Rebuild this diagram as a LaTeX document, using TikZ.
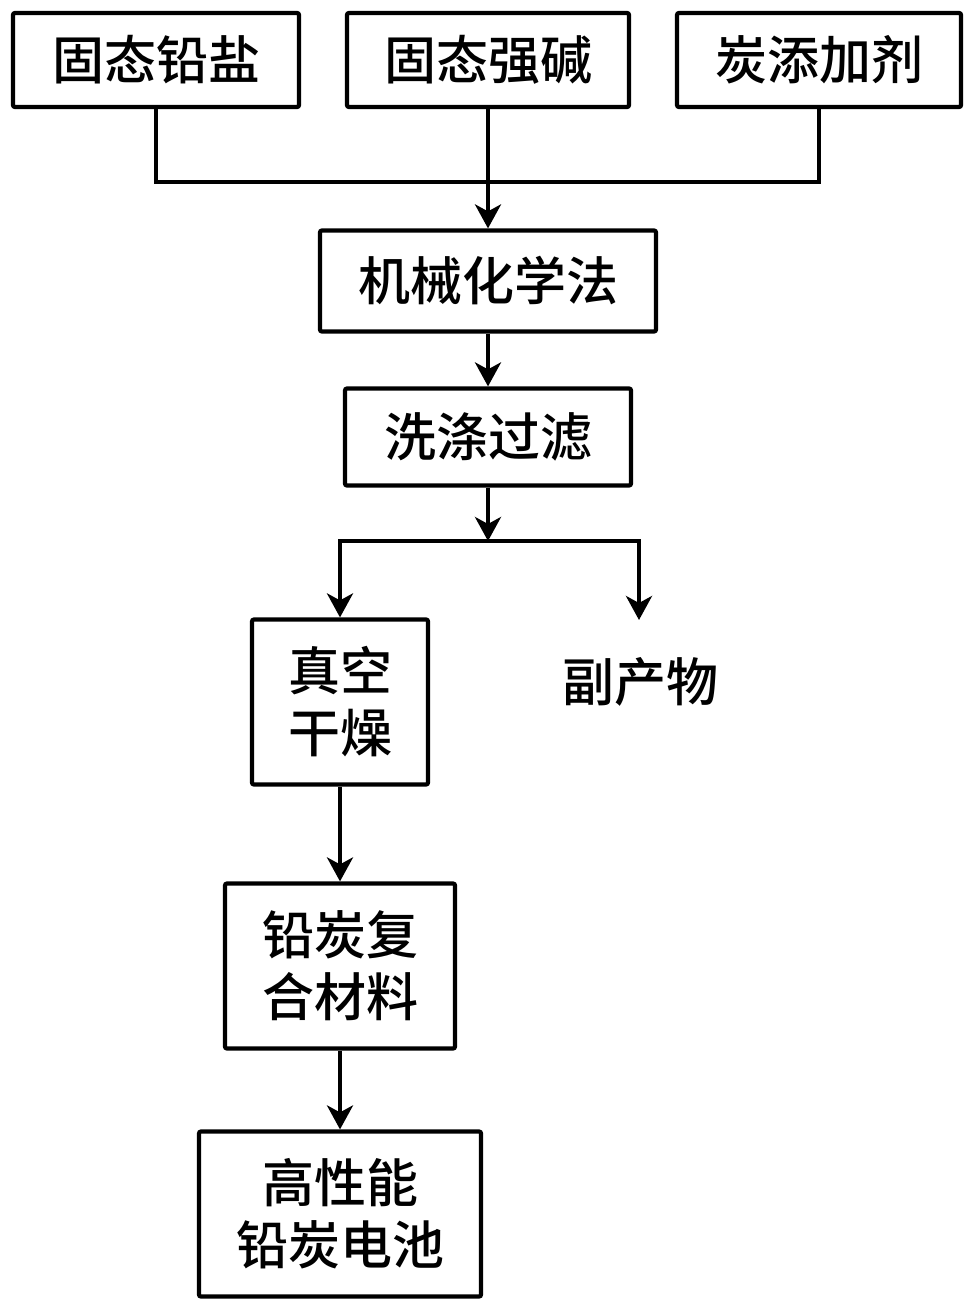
\documentclass[tikz,border=0pt]{standalone}
\usepackage{fontspec}
\newfontfamily\cjk{Noto Sans CJK SC Medium}
\usetikzlibrary{arrows.meta}
\tikzset{
  box/.style={draw=black, line width=4.2pt, rounded corners=2pt, inner sep=0pt, align=center,
    font=\cjk\fontsize{52}{62}\selectfont},
  label/.style={inner sep=0pt, font=\cjk\fontsize{52}{62}\selectfont},
  conn/.style={line width=4pt, draw=black},
  arr/.style={conn, -{Stealth[length=24pt, width=26pt, inset=7pt]}}
}
\begin{document}
\begin{tikzpicture}[x=1pt, y=-1pt]
\useasboundingbox (0,0) rectangle (972,1314);
\node[box, minimum width=286pt, minimum height=94pt] (b1) at (156,60) {固态铅盐};
\node[box, minimum width=282pt, minimum height=94pt] (b2) at (488,60) {固态强碱};
\node[box, minimum width=284pt, minimum height=94pt] (b3) at (819,60) {炭添加剂};
\node[box, minimum width=336pt, minimum height=101pt] (mech) at (488,281) {机械化学法};
\node[box, minimum width=286pt, minimum height=97pt] (wash) at (488,437) {洗涤过滤};
\node[box, minimum width=176pt, minimum height=165pt] (vac) at (340,702) {真空\\干燥};
\node[label] (byp) at (640,682) {副产物};
\node[box, minimum width=230pt, minimum height=165pt] (comp) at (340,966) {铅炭复\\合材料};
\node[box, minimum width=282pt, minimum height=165pt] (bat) at (340,1214) {高性能\\铅炭电池};
\coordinate (j1) at (488,182);
\coordinate (j2) at (488,541);
\coordinate (bend) at (639,620);
\draw[conn] (b1.south) |- (j1) -| (b3.south);
\draw[arr] (b2.south) -- (mech.north);
\draw[arr] (mech.south) -- (wash.north);
\draw[arr] (wash.south) -- (j2);
\draw[arr] (j2) -| (vac.north);
\draw[arr] (j2) -| (bend);
\draw[arr] (vac.south) -- (comp.north);
\draw[arr] (comp.south) -- (bat.north);
\end{tikzpicture}
\end{document}
